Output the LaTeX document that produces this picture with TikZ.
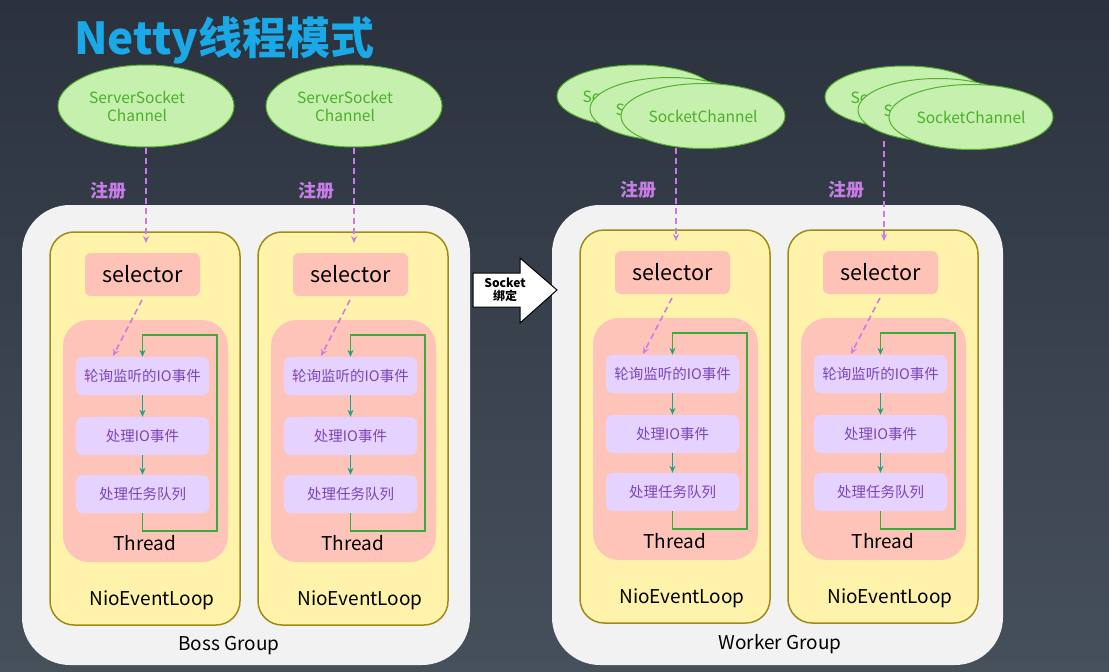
\documentclass[tikz,border=0pt]{standalone}
\usepackage{fontspec}
\setmainfont{Noto Sans CJK SC}
\usetikzlibrary{arrows.meta,calc,shapes.geometric}
\definecolor{bgtop}{HTML}{2B323E}
\definecolor{bgbot}{HTML}{46505B}
\definecolor{grpfill}{HTML}{F2F2F2}
\definecolor{loopfill}{HTML}{FFF2AA}
\definecolor{loopline}{HTML}{9C8C14}
\definecolor{selfill}{HTML}{FFC2B6}
\definecolor{thrfill}{HTML}{FFC4B9}
\definecolor{pfill}{HTML}{E6D2FF}
\definecolor{ptext}{HTML}{7B45B5}
\definecolor{gline}{HTML}{3DAB3A}
\definecolor{teal2}{HTML}{1AA58A}
\definecolor{dash}{HTML}{C87DE6}
\definecolor{titlec}{HTML}{1AA8E6}
\definecolor{elfill}{HTML}{C5F0AD}
\definecolor{elline}{HTML}{55B030}
\definecolor{eltext}{HTML}{4CAF2A}
\tikzset{
  grp/.style={fill=grpfill,draw=none,rounded corners=48pt},
  loopbox/.style={fill=loopfill,draw=loopline,line width=1.5pt,rounded corners=24pt,minimum width=190pt,minimum height=393pt,inner sep=0pt},
  selbox/.style={fill=selfill,rounded corners=6pt,minimum width=115pt,minimum height=43pt,inner sep=0pt,font=\fontsize{21.5}{24}\selectfont},
  thrbox/.style={fill=thrfill,rounded corners=26pt,minimum width=165pt,minimum height=242pt,inner sep=0pt},
  pbox/.style={fill=pfill,rounded corners=7pt,minimum width=133pt,minimum height=38pt,inner sep=0pt,text=ptext,font=\fontsize{14.5}{16}\selectfont},
  lbl/.style={font=\fontsize{19}{21}\selectfont,inner sep=0pt},
  elb/.style={ellipse,fill=elfill,draw=elline,line width=1pt,text=eltext,font=\fontsize{15.5}{18}\selectfont,align=center,inner sep=0pt},
  reg/.style={text=dash,font=\fontsize{18}{20}\selectfont\bfseries,inner sep=0pt},
  dasharrow/.style={draw=dash,line width=1.6pt,dash pattern=on 6pt off 4pt,-{Stealth[length=7pt,width=6pt]}},
  flow/.style={draw=teal2,line width=1.5pt,-{Stealth[length=7pt,width=6pt]}},
  loopline2/.style={draw=gline,line width=1.8pt,-{Stealth[length=7pt,width=6pt,color=teal2]}},
}
\newcommand\evloop[3]{%
\begin{scope}[shift={(#2,#3)}]
  \node[loopbox] (#1L) at (95,196.5) {};
  \node[selbox] (#1S) at (92.5,42.5) {selector};
  \node[thrbox] (#1T) at (95.5,209) {};
  \node[lbl] (#1Tt) at (95,311) {Thread};
  \node[pbox] (#1P1) at (92.5,144) {轮询监听的IO事件};
  \node[pbox] (#1P2) at (92.5,204) {处理IO事件};
  \node[pbox] (#1P3) at (92.5,262) {处理任务队列};
  \node[lbl] (#1N) at (102,368) {NioEventLoop};
  \coordinate (#1R) at (167,103);
  \coordinate (#1in) at (96,11);
  \coordinate (#1ds) at (92,68);
  \coordinate (#1de) at (63,124);
  \draw[flow] (#1P1) -- (#1P2);
  \draw[flow] (#1P2) -- (#1P3);
  \draw[loopline2] (#1P3.south) -- ++(0,18) -| (#1R) -| (#1P1.north);
  \draw[dasharrow] (#1ds) -- (#1de);
\end{scope}}
\begin{document}
\begin{tikzpicture}[x=1pt,y=-1pt]
\useasboundingbox (0,0) rectangle (1109,672);
\shade[top color=bgtop,bottom color=bgbot] (0,0) rectangle (1109,672);
\node[anchor=west,text=titlec,font=\fontsize{44}{48}\selectfont\bfseries,inner sep=0pt] (title) at (74,40) {Netty线程模式};
% groups
\fill[grp] (22,205) rectangle (470,665);
\fill[grp] (552,205) rectangle (1003,665);
\node[lbl] (boss) at (229,646) {Boss Group};
\node[lbl] (worker) at (780,644) {Worker Group};
% event loops
\evloop{b1}{50}{232}
\evloop{b2}{258}{232}
\evloop{w1}{580}{230}
\evloop{w2}{788}{230}
% boss channels
\node[elb,minimum width=176pt,minimum height=82pt] (ssc1) at (146,106) {};
\node[elb,minimum width=176pt,minimum height=82pt] (ssc2) at (354,106) {};
\node[text=eltext,font=\fontsize{15.5}{18}\selectfont,align=center,inner sep=0pt] (ssc1t) at (137,106) {ServerSocket\\Channel};
\node[text=eltext,font=\fontsize{15.5}{18}\selectfont,align=center,inner sep=0pt] (ssc2t) at (345,106) {ServerSocket\\Channel};
% worker channels
\node[elb,minimum width=160pt,minimum height=62pt] (wa1) at (637,96) {SocketChannel};
\node[elb,minimum width=160pt,minimum height=63pt] (wa2) at (670,109) {SocketChannel};
\node[elb,minimum width=164pt,minimum height=65pt] (wa3) at (703,116) {SocketChannel};
\node[elb,minimum width=160pt,minimum height=62pt] (wb1) at (905,97) {SocketChannel};
\node[elb,minimum width=160pt,minimum height=63pt] (wb2) at (938,110) {SocketChannel};
\node[elb,minimum width=164pt,minimum height=65pt] (wb3) at (971,117) {SocketChannel};
% registration arrows
\coordinate (s1) at (146,148);
\coordinate (s2) at (354,148);
\coordinate (s3) at (676,148);
\coordinate (s4) at (884,141);
\draw[dasharrow] (s1) -- (b1in);
\draw[dasharrow] (s2) -- (b2in);
\draw[dasharrow] (s3) -- (w1in);
\draw[dasharrow] (s4) -- (w2in);
\node[reg] (r1) at (108,191) {注册};
\node[reg] (r2) at (316,191) {注册};
\node[reg] (r3) at (638,190) {注册};
\node[reg] (r4) at (846,190) {注册};
% socket bind arrow
\draw[fill=white,draw=black,line width=1pt] (473,273) -- (520,273) -- (520,258) -- (557,290) -- (520,323) -- (520,307) -- (473,307) -- cycle;
\node[align=center,font=\fontsize{12}{13}\selectfont\bfseries,inner sep=0pt] (bind) at (505,290) {Socket\\绑定};
\end{tikzpicture}
\end{document}
